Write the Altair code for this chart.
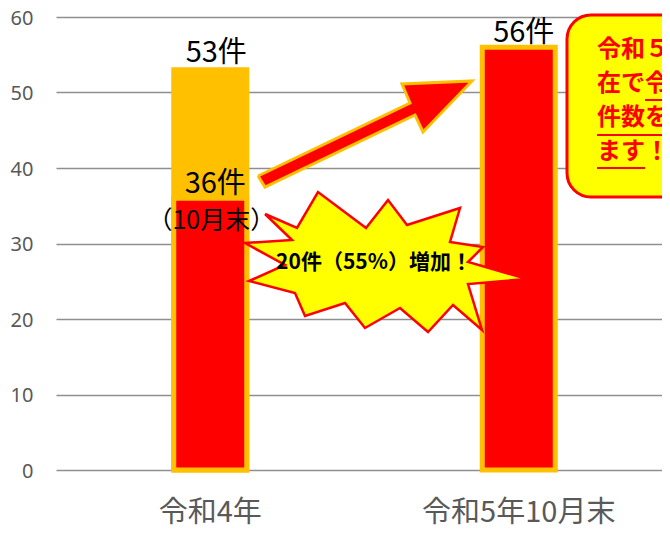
import altair as alt
import pandas as pd

# ---------------- data ----------------
categories = ["令和4年", "令和5年10月末"]
red_values = [36, 56]            # 令和4年10月末 / 令和5年10月末
orange_category = ["令和4年"]
orange_values = [53]             # 令和4年 通年
sub_label_category = ["令和4年"]
sub_label_value = [36]
sub_label_text = ["（10月末）"]

burst_text = "20件（55%）増加！"
callout_lines = ["令和５年10月末現", "在で令和4年の全", "件数を超えてい", "ます！"]

# annotation shapes (page pixel coordinates)
arrow_x = [258, 410, 402, 472, 423, 415, 265, 258]
arrow_y = [176, 103, 84, 81, 132, 115, 187, 176]
star_x = [265, 297, 318, 366, 388, 407, 460, 450, 483, 468, 527, 468, 482, 453,
          428, 400, 365, 345, 305, 295, 249, 285, 245, 292, 265]
star_y = [214, 228, 192, 228, 200, 225, 208, 242, 247, 262, 279, 284, 330, 305,
          332, 308, 328, 303, 316, 293, 281, 265, 243, 240, 214]

FONT_JP = "Noto Sans CJK JP"
RED = "#FF0000"
ORANGE = "#FFC000"
YELLOW = "#FFFF00"
GRAY = "#595959"

red_df = pd.DataFrame({"cat": categories, "v": red_values})
red_df["label"] = red_df["v"].astype(str) + "件"
orange_df = pd.DataFrame({"cat": orange_category, "v": orange_values})
orange_df["label"] = orange_df["v"].astype(str) + "件"
sub_df = pd.DataFrame({"cat": sub_label_category, "v": sub_label_value, "label": sub_label_text})

W, H = 605, 453
xs = alt.Scale(domain=categories, range=[-1, 616], paddingInner=0, paddingOuter=0)
ys = alt.Scale(domain=[0, 60], nice=False, zero=True)

x_axis = alt.Axis(title=None, domain=False, ticks=False, grid=False, labelAngle=0, labelLimit=500,
                  labelFontSize=29, labelColor=GRAY, labelPadding=28, labelFont=FONT_JP)
y_axis = alt.Axis(title=None, values=[0, 10, 20, 30, 40, 50, 60], domain=False, ticks=False,
                  grid=True, gridColor="#8f8f8f", gridWidth=1.5,
                  labelFontSize=20, labelColor=GRAY, labelPadding=24, labelFont="Noto Sans",
                  labelBaseline="alphabetic", labelOffset=7)

X = alt.X("cat:N", scale=xs, sort=categories, axis=x_axis)
Y = alt.Y("v:Q", scale=ys, axis=y_axis)

bars_orange = alt.Chart(orange_df).mark_bar(size=73, color=ORANGE, stroke=ORANGE, strokeWidth=5).encode(x=X, y=Y)
bars_red = alt.Chart(red_df).mark_bar(size=73, color=RED, stroke=ORANGE, strokeWidth=5).encode(x=X, y=Y)

lab_orange = alt.Chart(orange_df).mark_text(dx=6, dy=-8, baseline="alphabetic", fontSize=29,
                                            font=FONT_JP, color="black").encode(x=X, y=Y, text="label:N")
lab_red = alt.Chart(red_df).mark_text(dx=5, dy=-5, baseline="alphabetic", fontSize=29,
                                      font=FONT_JP, color="black").encode(x=X, y=Y, text="label:N")
lab_sub = alt.Chart(sub_df).mark_text(dx=1, dy=31, baseline="alphabetic", fontSize=25,
                                      font=FONT_JP, color="black").encode(x=X, y=Y, text="label:N")

data_layer = alt.layer(bars_orange, bars_red, lab_orange, lab_red, lab_sub)

# ---------------- annotations ----------------
DX = alt.Scale(domain=[57, 57 + W], range=[0, W], zero=False, nice=False)
DY = alt.Scale(domain=[17, 17 + H], range=[0, H], zero=False, nice=False)

def px(field):
    return alt.X(field, type="quantitative", scale=DX, axis=None)

def py(field):
    return alt.Y(field, type="quantitative", scale=DY, axis=None)

arrow_df = pd.DataFrame({"x": arrow_x, "y": arrow_y, "i": range(len(arrow_x))})
star_df = pd.DataFrame({"x": star_x, "y": star_y, "i": range(len(star_x))})

arrow = alt.Chart(arrow_df).mark_line(fill=RED, stroke=ORANGE, strokeWidth=3, strokeJoin="miter").encode(
    x=px("x"), y=py("y"), order="i:Q")
star = alt.Chart(star_df).mark_line(fill=YELLOW, stroke=RED, strokeWidth=2.5, strokeJoin="miter").encode(
    x=px("x"), y=py("y"), order="i:Q")
star_label = alt.Chart(pd.DataFrame({"x": [374], "y": [263], "t": [burst_text]})).mark_text(
    fontSize=21, font=FONT_JP, fontWeight="bold", color="black", baseline="middle", align="center"
).encode(x=px("x"), y=py("y"), text="t:N")

box = alt.Chart(pd.DataFrame({"x": [567], "x2": [740], "y": [15], "y2": [197]})).mark_rect(
    fill=YELLOW, stroke=RED, strokeWidth=3, cornerRadius=24
).encode(x=px("x"), x2="x2", y=py("y"), y2="y2")

callout_df = pd.DataFrame({"x": [597] * 4, "y": [57, 91, 125, 159], "t": callout_lines})
callout = alt.Chart(callout_df).mark_text(
    fontSize=24, font=FONT_JP, fontWeight="bold", color=RED, align="left", baseline="alphabetic"
).encode(x=px("x"), y=py("y"), text="t:N")

ul_df = pd.DataFrame({"x": [645, 597, 597], "x2": [700, 700, 645], "y": [100, 135, 168]})
underline = alt.Chart(ul_df).mark_rule(color=RED, strokeWidth=2).encode(x=px("x"), x2="x2", y=py("y"))

deco_layer = alt.layer(arrow, star, star_label, box, callout, underline)

chart = alt.layer(data_layer, deco_layer).resolve_scale(
    x="independent", y="independent"
).properties(
    width=W, height=H,
    autosize=alt.AutoSizeParams(type="none"),
    padding={"left": 49, "top": 9, "right": 0, "bottom": 57},
    background="white",
).configure_view(stroke=None)

chart.save("out.html", embed_options={"renderer": "svg", "actions": False})
